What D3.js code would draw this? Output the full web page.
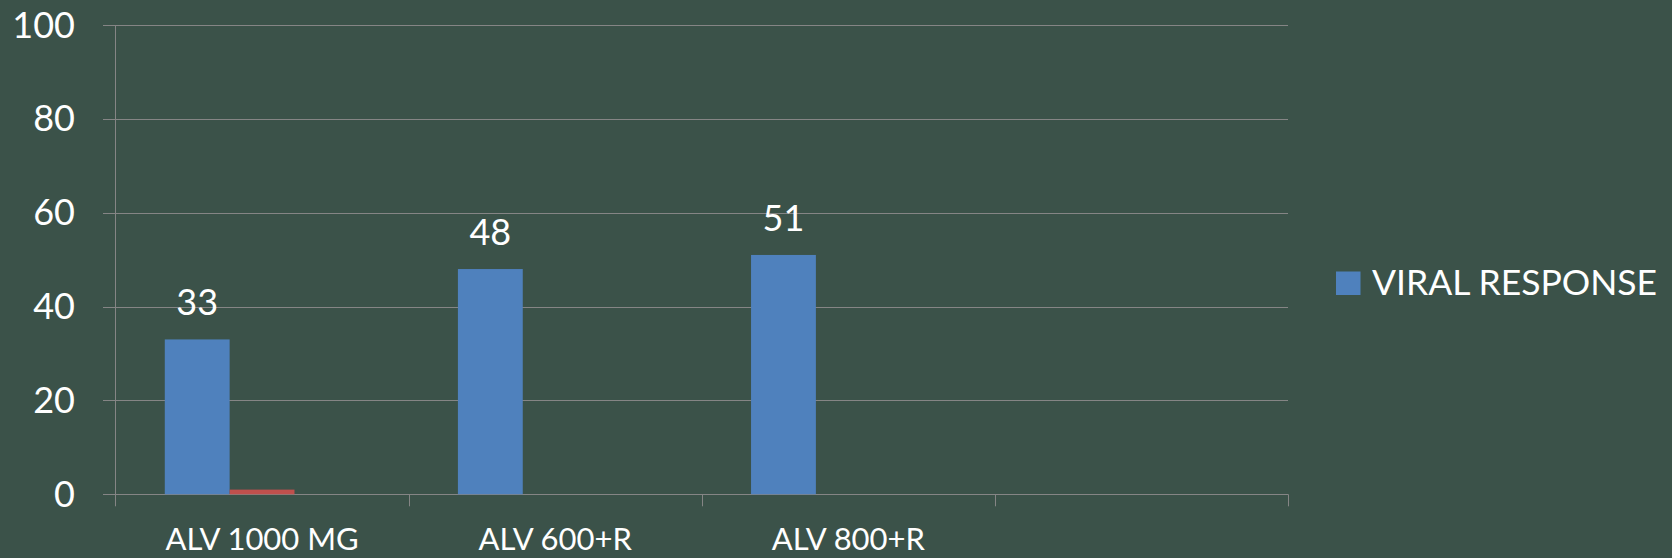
<!DOCTYPE html>
<html>
<head>
<meta charset="utf-8">
<script src="https://cdn.jsdelivr.net/npm/d3@7"></script>
<style>
  html, body { margin: 0; padding: 0; background: #3b5249; }
  svg { display: block; }
  text { font-family: Lato, "Open Sans", sans-serif; fill: #ffffff; }
</style>
</head>
<body>
<svg id="chart" width="1672" height="558"></svg>
<script>
// Categories and series
const categories = ["ALV 1000 MG", "ALV 600+R", "ALV 800+R", ""];
const viralResponse = [33, 48, 51, null];
const secondSeries = [1, null, null, null];
const thirdSeries = [null, null, null, null];
const yTicks = [0, 20, 40, 60, 80, 100];
const legendLabels = ["VIRAL RESPONSE"];

const seriesList = [
  { key: "viral", values: viralResponse, color: "#4f81bd", labelled: true },
  { key: "s2", values: secondSeries, color: "#c0504d", labelled: false },
  { key: "s3", values: thirdSeries, color: "#9bbb59", labelled: false }
];

const svg = d3.select("#chart");
const margin = { left: 115.5, right: 1288, top: 25, bottom: 494.3 };

const x = d3.scaleBand()
  .domain(d3.range(categories.length))
  .range([margin.left, margin.right])
  .paddingInner(0)
  .paddingOuter(0);

const xInner = d3.scaleBand()
  .domain(seriesList.map(s => s.key))
  .range([0, x.bandwidth()])
  .paddingOuter(0.76)
  .paddingInner(0);

const y = d3.scaleLinear().domain([0, 100]).range([margin.bottom, margin.top]);

const gridColor = "#858585";

// Horizontal gridlines, extending slightly left of the axis as ticks
svg.append("g")
  .selectAll("line")
  .data(yTicks)
  .join("line")
  .attr("x1", margin.left - 12.5)
  .attr("x2", margin.right)
  .attr("y1", d => Math.round(y(d)) + 0.5)
  .attr("y2", d => Math.round(y(d)) + 0.5)
  .attr("stroke", gridColor)
  .attr("stroke-width", 1);

// Y axis line
svg.append("line")
  .attr("x1", margin.left).attr("x2", margin.left)
  .attr("y1", y(100)).attr("y2", y(0) + 12)
  .attr("stroke", gridColor).attr("stroke-width", 1);

// Category boundary ticks
const boundaries = d3.range(categories.length + 1).map(i =>
  i < categories.length ? x(i) : x(categories.length - 1) + x.bandwidth());
svg.append("g")
  .selectAll("line")
  .data(boundaries.slice(1))
  .join("line")
  .attr("x1", d => Math.round(d) + 0.5)
  .attr("x2", d => Math.round(d) + 0.5)
  .attr("y1", y(0))
  .attr("y2", y(0) + 12)
  .attr("stroke", gridColor).attr("stroke-width", 1);

// Y tick labels
svg.append("g")
  .selectAll("text")
  .data(yTicks)
  .join("text")
  .attr("x", 75)
  .attr("y", d => y(d) + 12.5)
  .attr("text-anchor", "end")
  .attr("font-size", 36)
  .text(d => d);

// Bars
seriesList.forEach(s => {
  const g = svg.append("g");
  const pts = s.values.map((v, i) => ({ v, i })).filter(d => d.v !== null);
  g.selectAll("rect")
    .data(pts)
    .join("rect")
    .attr("x", d => x(d.i) + xInner(s.key))
    .attr("width", xInner.bandwidth())
    .attr("y", d => y(d.v))
    .attr("height", d => y(0) - y(d.v))
    .attr("fill", s.color);
  if (s.labelled) {
    g.selectAll("text")
      .data(pts)
      .join("text")
      .attr("x", d => x(d.i) + xInner(s.key) + xInner.bandwidth() / 2)
      .attr("y", d => y(d.v) - 24)
      .attr("text-anchor", "middle")
      .attr("font-size", 36)
      .text(d => d.v);
  }
});

// Category labels
svg.append("g")
  .selectAll("text")
  .data(categories)
  .join("text")
  .attr("x", (d, i) => x(i) + x.bandwidth() / 2)
  .attr("y", 550)
  .attr("text-anchor", "middle")
  .attr("font-size", 31)
  .text(d => d);

// Legend
const legend = svg.append("g").attr("transform", "translate(1336,271.5)");
legend.append("rect")
  .attr("width", 24.5).attr("height", 23.5)
  .attr("fill", seriesList[0].color);
legend.append("text")
  .attr("x", 36)
  .attr("y", 23.5)
  .attr("font-size", 35.5)
  .text(legendLabels[0]);
</script>
</body>
</html>
